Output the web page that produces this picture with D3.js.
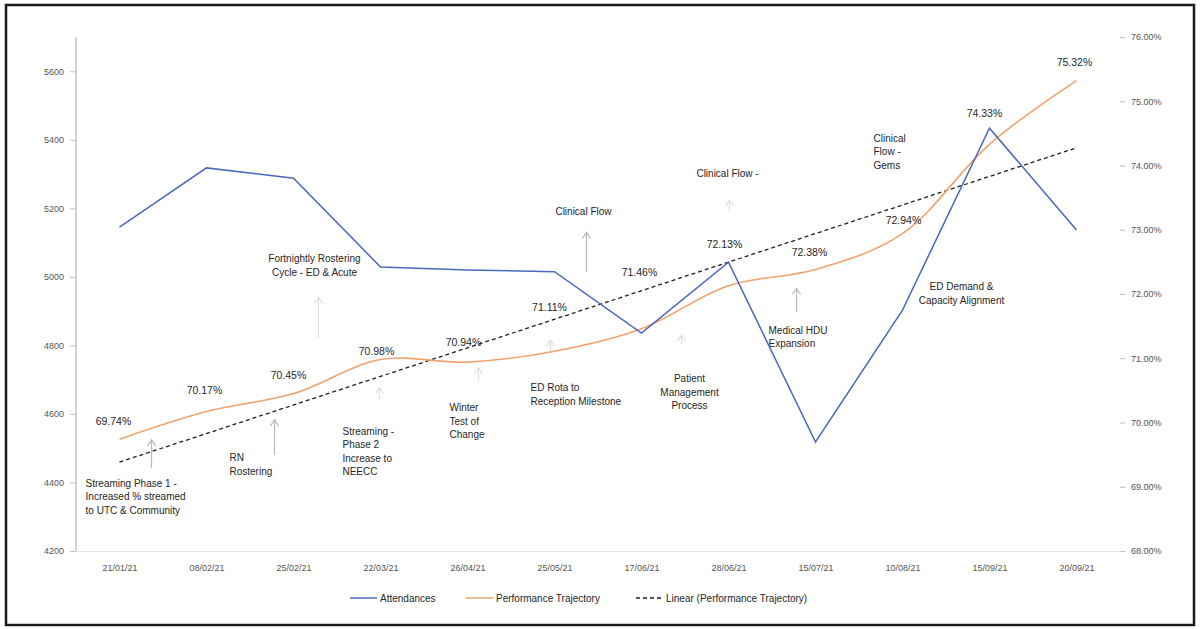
<!DOCTYPE html>
<html>
<head>
<meta charset="utf-8">
<script src="https://cdn.jsdelivr.net/npm/d3@7"></script>
<style>
  html, body { margin: 0; padding: 0; background: #fff; }
  svg { display: block; font-family: "Liberation Sans", Arial, sans-serif; }
</style>
</head>
<body>
<svg id="chart" width="1200" height="629"></svg>
<script>
// ---- data ----
const weeks = ["21/01/21","08/02/21","25/02/21","22/03/21","26/04/21","25/05/21",
               "17/06/21","28/06/21","15/07/21","10/08/21","15/09/21","20/09/21"];
const attendances = [5145, 5318, 5288, 5029, 5020, 5015, 4836, 5043, 4518, 4903, 5434, 5137];
const performance = [69.74, 70.17, 70.45, 70.98, 70.94, 71.11, 71.46, 72.13, 72.38, 72.94, 74.33, 75.32];
const leftTicks = [4200, 4400, 4600, 4800, 5000, 5200, 5400, 5600];
const rightTicks = [68, 69, 70, 71, 72, 73, 74, 75, 76];

// callout text, anchored by category index (fractional) and performance value
const noteLines = [
  ["Streaming Phase 1 -", "Increased % streamed", "to UTC & Community"],
  ["RN", "Rostering"],
  ["Fortnightly Rostering", "Cycle - ED & Acute"],
  ["Streaming -", "Phase 2", "Increase to", "NEECC"],
  ["Winter", "Test of", "Change"],
  ["ED Rota to", "Reception Milestone"],
  ["Clinical Flow"],
  ["Patient", "Management", "Process"],
  ["Clinical Flow -"],
  ["Medical HDU", "Expansion"],
  ["Clinical", "Flow -", "Gems"],
  ["ED Demand &", "Capacity Alignment"]
];
const noteAt = [
  {i: -0.39, v: 69.06, anchor: "start"},
  {i: 1.264, v: 69.46, anchor: "start"},
  {i: 2.241, v: 72.56, anchor: "middle"},
  {i: 2.563, v: 69.87, anchor: "start"},
  {i: 3.793, v: 70.24, anchor: "start"},
  {i: 4.724, v: 70.55, anchor: "start"},
  {i: 5.333, v: 73.29, anchor: "middle"},
  {i: 6.552, v: 70.69, anchor: "middle"},
  {i: 6.989, v: 73.88, anchor: "middle"},
  {i: 7.460, v: 71.44, anchor: "start"},
  {i: 8.667, v: 74.43, anchor: "start"},
  {i: 9.678, v: 72.12, anchor: "middle"}
];
// pointer arrows: category index, from value to value, strength
const arrows = [
  {i: 0.368, v0: 69.29, v1: 69.73, faint: false},
  {i: 1.782, v0: 69.49, v1: 70.04, faint: false},
  {i: 2.287, v0: 71.32, v1: 71.95, faint: true},
  {i: 2.989, v0: 70.35, v1: 70.54, faint: true},
  {i: 4.126, v0: 70.66, v1: 70.85, faint: true},
  {i: 4.954, v0: 71.10, v1: 71.28, faint: true},
  {i: 5.368, v0: 72.34, v1: 72.96, faint: false},
  {i: 6.460, v0: 71.21, v1: 71.36, faint: true},
  {i: 7.011, v0: 73.28, v1: 73.46, faint: true},
  {i: 7.782, v0: 71.72, v1: 72.09, faint: false}
];
// value-label nudges (px) relative to each performance point
const labelNudge = [[-6,-18],[-2,-22],[-5,-19],[-4,-9],[-4,-20],[-5,-44],
                    [-2,-57],[-4,-42],[-6,-18],[1,-14],[-5,-31],[-2,-19]];

// ---- layout ----
const svg = d3.select("#chart");
const plotL = 76, plotR = 1120, plotT = 37, plotB = 551;

const x = d3.scalePoint().domain(weeks).range([plotL, plotR]).padding(0.5);
const xi = d3.scaleLinear().domain([0, weeks.length - 1]).range([x(weeks[0]), x(weeks[weeks.length - 1])]);
const yL = d3.scaleLinear().domain([4200, 5700]).range([plotB, plotT]);
const yR = d3.scaleLinear().domain([68, 76]).range([plotB, plotT]);

const BLUE = "#4a68bd", ORANGE = "#f2a26c", TXT = "#262626", AX = "#555";

// frame
svg.append("rect").attr("x", 6).attr("y", 5).attr("width", 1188).attr("height", 620)
  .attr("fill", "#fff").attr("stroke", "#1a1a1a").attr("stroke-width", 2.5);

// left axis
const gL = svg.append("g").attr("transform", `translate(${plotL},0)`)
  .call(d3.axisLeft(yL).tickValues(leftTicks).tickSize(6).tickPadding(6).tickFormat(d3.format("d")));
gL.select(".domain").attr("stroke", "#a6a6a6").attr("d", `M0,${plotT}V${plotB}`);
gL.selectAll(".tick line").attr("stroke", "#bfbfbf");
gL.selectAll(".tick text").attr("fill", AX).style("font-size", "9px");

// right axis (ticks only)
const gR = svg.append("g").attr("transform", `translate(${plotR},0)`)
  .call(d3.axisRight(yR).tickValues(rightTicks).tickSize(5).tickPadding(6).tickFormat(d => d3.format(".2f")(d) + "%"));
gR.select(".domain").remove();
gR.selectAll(".tick line").attr("stroke", "#bfbfbf");
gR.selectAll(".tick text").attr("fill", AX).style("font-size", "9px");

// category axis
const gX = svg.append("g").attr("transform", `translate(0,${plotB})`)
  .call(d3.axisBottom(x).tickSize(0).tickPadding(14));
gX.select(".domain").attr("stroke", "#e3e3e3");
gX.selectAll(".tick text").attr("fill", AX).style("font-size", "9px");

// arrows
arrows.forEach(a => {
  const ax = xi(a.i), yb = yR(a.v0), yt = yR(a.v1);
  const col = a.faint ? "#dedede" : "#b8b8b8";
  svg.append("line").attr("x1", ax).attr("x2", ax).attr("y1", yb).attr("y2", yt)
    .attr("stroke", col).attr("stroke-width", 1.2);
  svg.append("path").attr("d", `M${ax - 4},${yt + 6}L${ax},${yt}L${ax + 4},${yt + 6}`)
    .attr("fill", "none").attr("stroke", col).attr("stroke-width", 1.2);
});

// callout text
noteLines.forEach((lines, k) => {
  const n = noteAt[k];
  const t = svg.append("text").attr("text-anchor", n.anchor)
    .attr("fill", TXT).style("font-size", "10px");
  lines.forEach((ln, j) => {
    t.append("tspan").attr("x", xi(n.i)).attr("y", yR(n.v) + 4 + j * 13.5).text(ln);
  });
});

// trendline (least squares on performance)
const idx = d3.range(performance.length);
const mx = d3.mean(idx), my = d3.mean(performance);
const slope = d3.sum(idx, i => (i - mx) * (performance[i] - my)) / d3.sum(idx, i => (i - mx) ** 2);
const icpt = my - slope * mx;
svg.append("line")
  .attr("x1", xi(0)).attr("y1", yR(icpt))
  .attr("x2", xi(idx.length - 1)).attr("y2", yR(icpt + slope * (idx.length - 1)))
  .attr("stroke", "#1f1f1f").attr("stroke-width", 1.3).attr("stroke-dasharray", "4,3");

// performance trajectory
svg.append("path").datum(performance)
  .attr("fill", "none").attr("stroke", ORANGE).attr("stroke-width", 1.6)
  .attr("d", d3.line().x((d, i) => x(weeks[i])).y(d => yR(d)).curve(d3.curveCatmullRom.alpha(0.5)));

// attendances
svg.append("path").datum(attendances)
  .attr("fill", "none").attr("stroke", BLUE).attr("stroke-width", 1.5)
  .attr("d", d3.line().x((d, i) => x(weeks[i])).y(d => yL(d)));

// value labels
svg.append("g").selectAll("text").data(performance).join("text")
  .attr("x", (d, i) => x(weeks[i]) + labelNudge[i][0])
  .attr("y", (d, i) => yR(d) + labelNudge[i][1] + 4)
  .attr("text-anchor", "middle").attr("fill", TXT).style("font-size", "10.5px")
  .text(d => d3.format(".2f")(d) + "%");

// legend
const legend = [
  {name: "Attendances", color: BLUE, dash: null, x: 350},
  {name: "Performance Trajectory", color: ORANGE, dash: null, x: 466},
  {name: "Linear (Performance Trajectory)", color: "#1f1f1f", dash: "4,3", x: 636}
];
const ly = 598;
legend.forEach(l => {
  svg.append("line").attr("x1", l.x).attr("x2", l.x + 27).attr("y1", ly).attr("y2", ly)
    .attr("stroke", l.color).attr("stroke-width", 1.5).attr("stroke-dasharray", l.dash);
  svg.append("text").attr("x", l.x + 30).attr("y", ly + 3.5).attr("fill", TXT)
    .style("font-size", "10px").text(l.name);
});
</script>
</body>
</html>
